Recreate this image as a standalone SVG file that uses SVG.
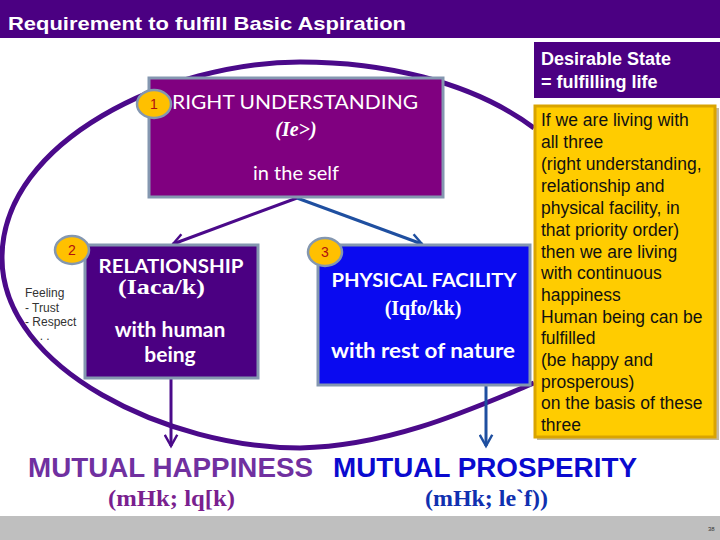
<svg xmlns="http://www.w3.org/2000/svg" width="720" height="540" viewBox="0 0 720 540">
<defs>
<style>
.sans{font-family:"Liberation Sans",Arial,sans-serif}
.cal{font-family:Lato,"Noto Sans",sans-serif}
.kd{font-family:"Liberation Serif","Times New Roman",serif;font-weight:bold}
.wt{fill:#FFFFFF}
.box{stroke:#8497B0;stroke-width:3}
.num{fill:#FFC000;stroke:#8497B0;stroke-width:2.5}
.numt{font-family:"Liberation Sans",Arial,sans-serif;font-size:14px;fill:#B01010;text-anchor:middle}
.yl{font-family:"Liberation Sans",Arial,sans-serif;font-size:17.5px;fill:#111111}
.fl{font-family:"Liberation Sans",Arial,sans-serif;font-size:12px;fill:#333333}
</style>
<marker id="ap" viewBox="0 0 12 12" refX="10" refY="6" markerWidth="5" markerHeight="5" orient="auto" markerUnits="strokeWidth">
<path d="M1,1 L10,6 L1,11" fill="none" stroke="#4B0A8A" stroke-width="2"/>
</marker>
<marker id="ab" viewBox="0 0 12 12" refX="10" refY="6" markerWidth="5" markerHeight="5" orient="auto" markerUnits="strokeWidth">
<path d="M1,1 L10,6 L1,11" fill="none" stroke="#1F4FA0" stroke-width="2"/>
</marker>
</defs>
<rect width="720" height="540" fill="#FFFFFF"/>
<g id="title">
<rect x="0" y="0" width="720" height="38" fill="#4B0082"/>
<text x="8" y="30" class="sans wt" font-size="19" font-weight="bold" textLength="398" lengthAdjust="spacingAndGlyphs">Requirement to fulfill Basic Aspiration</text>
</g>
<g id="connectors" fill="none">
<path d="M534,128 C470,80 380,62 300,62 C170,62 2,140 2,258 C2,370 170,448 300,448 C390,446 470,410 534,383" stroke="#4B0A8A" stroke-width="5"/>
<line x1="297" y1="198" x2="173" y2="244" stroke="#4B0A8A" stroke-width="3" marker-end="url(#ap)"/>
<line x1="297" y1="198" x2="422" y2="244" stroke="#1F4FA0" stroke-width="3" marker-end="url(#ab)"/>
<line x1="171" y1="379" x2="171" y2="446" stroke="#4B0A8A" stroke-width="3" marker-end="url(#ap)"/>
<line x1="486" y1="386" x2="486" y2="446" stroke="#1F4FA0" stroke-width="3" marker-end="url(#ab)"/>
</g>
<g id="desirable">
<rect x="534" y="42" width="186" height="56" fill="#4B0082"/>
<text x="541" y="65" class="sans wt" font-size="18" font-weight="bold">Desirable State</text>
<text x="541" y="88" class="sans wt" font-size="18" font-weight="bold">= fulfilling life</text>
</g>
<g id="condition">
<rect x="537" y="108" width="182" height="332" fill="#9A8A60" opacity="0.6"/>
<rect x="535" y="106" width="180" height="331" fill="#FFCC00" stroke="#D9A400" stroke-width="3"/>
<text class="yl">
<tspan x="541" y="126">If we are living with</tspan>
<tspan x="541" y="148">all three</tspan>
<tspan x="541" y="170">(right understanding,</tspan>
<tspan x="541" y="192">relationship and</tspan>
<tspan x="541" y="214">physical facility, in</tspan>
<tspan x="541" y="236">that priority order)</tspan>
<tspan x="541" y="258">then we are living</tspan>
<tspan x="541" y="279">with continuous</tspan>
<tspan x="541" y="301">happiness</tspan>
<tspan x="541" y="323">Human being can be</tspan>
<tspan x="541" y="344">fulfilled</tspan>
<tspan x="541" y="366">(be happy and</tspan>
<tspan x="541" y="388">prosperous)</tspan>
<tspan x="541" y="409">on the basis of these</tspan>
<tspan x="541" y="431">three</tspan>
</text>
</g>
<g id="node1">
<rect x="149" y="78" width="294" height="119" fill="#800080" class="box"/>
<text x="295" y="109" class="cal wt" font-size="20" text-anchor="middle" textLength="246" lengthAdjust="spacingAndGlyphs">RIGHT UNDERSTANDING</text>
<text x="296" y="136" class="kd wt" font-size="20" font-style="italic" text-anchor="middle">(Ie&gt;)</text>
<text x="296" y="180" class="cal wt" font-size="20" text-anchor="middle">in the self</text>
<ellipse cx="154" cy="104" rx="17" ry="14" class="num"/>
<text x="154" y="109" class="numt">1</text>
</g>
<g id="node2">
<rect x="85" y="245" width="173" height="133" fill="#4B0082" class="box"/>
<text x="171" y="273" class="cal wt" font-size="18" font-weight="bold" text-anchor="middle" textLength="145" lengthAdjust="spacingAndGlyphs">RELATIONSHIP</text>
<text x="118" y="294" class="kd wt" font-size="20" textLength="87" lengthAdjust="spacingAndGlyphs">(Iaca/k)</text>
<text x="170" y="337" class="cal wt" font-size="21" font-weight="bold" text-anchor="middle">with human</text>
<text x="170" y="362" class="cal wt" font-size="21" font-weight="bold" text-anchor="middle">being</text>
<ellipse cx="72" cy="250" rx="17" ry="14" class="num"/>
<text x="72" y="255" class="numt">2</text>
</g>
<g id="feeling">
<text class="fl">
<tspan x="25" y="297">Feeling</tspan>
<tspan x="25" y="312">- Trust</tspan>
<tspan x="25" y="326">- Respect</tspan>
<tspan x="33" y="340">. . .</tspan>
</text>
</g>
<g id="node3">
<rect x="318" y="245" width="212" height="140" fill="#0A0AF0" class="box"/>
<text x="424" y="287" class="cal wt" font-size="18" font-weight="bold" text-anchor="middle" textLength="185" lengthAdjust="spacingAndGlyphs">PHYSICAL FACILITY</text>
<text x="423" y="315" class="kd wt" font-size="20" text-anchor="middle">(Iqfo/kk)</text>
<text x="423" y="358" class="cal wt" font-size="20" font-weight="bold" text-anchor="middle" textLength="184" lengthAdjust="spacingAndGlyphs">with rest of nature</text>
<ellipse cx="325" cy="252" rx="17" ry="14" class="num"/>
<text x="325" y="257" class="numt">3</text>
</g>
<g id="happiness">
<text x="28" y="477" class="sans" font-size="27" font-weight="bold" fill="#7030A0" textLength="285" lengthAdjust="spacingAndGlyphs">MUTUAL HAPPINESS</text>
<text x="108" y="506" class="kd" font-size="24" fill="#7A1F8F" textLength="127" lengthAdjust="spacingAndGlyphs">(mHk; lq[k)</text>
</g>
<g id="prosperity">
<text x="333" y="477" class="sans" font-size="27" font-weight="bold" fill="#0A0ACF" textLength="304" lengthAdjust="spacingAndGlyphs">MUTUAL PROSPERITY</text>
<text x="425" y="506" class="kd" font-size="24" fill="#1030B0" textLength="123" lengthAdjust="spacingAndGlyphs">(mHk; le`f))</text>
</g>
<g id="footer">
<rect x="0" y="516" width="720" height="24" fill="#BFBFBF"/>
<text x="708" y="531" class="sans" font-size="6" fill="#333333">38</text>
</g>
</svg>
